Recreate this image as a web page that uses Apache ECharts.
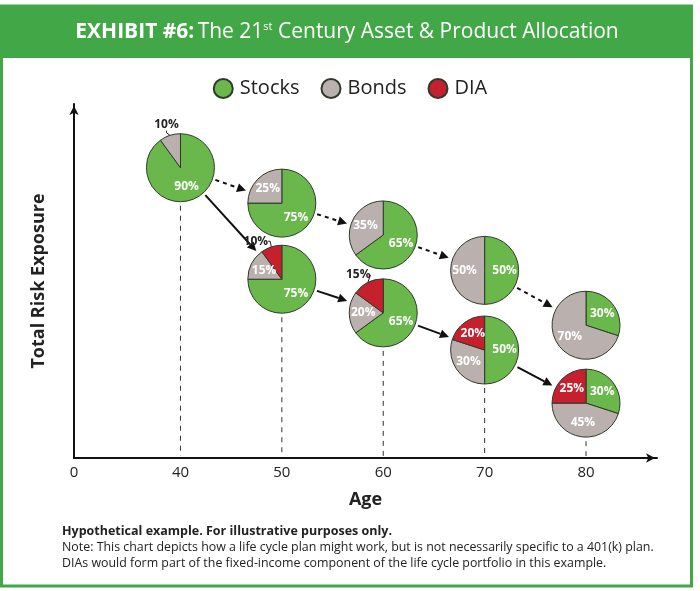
<!DOCTYPE html>
<html><head><meta charset="utf-8">
<script src="https://cdn.jsdelivr.net/npm/echarts@6/dist/echarts.min.js"></script>
<style>html,body{margin:0;padding:0;background:#fff}#c{width:700px;height:591px}</style>
</head><body><div id="c"></div>
<script>
// ---- data ----
const categories = ['Stocks', 'Bonds', 'DIA'];
const ages = [40, 50, 60, 70, 80];
const tickLabels = ['0', '40', '50', '60', '70', '80'];
// traditional stock/bond path (upper row of pies)
const tradStocks = [90, 75, 65, 50, 30];
const tradBonds  = [10, 25, 35, 50, 70];
const tradRisk   = [82, 72, 63, 53, 37.5];
// path with DIAs (lower row of pies)
const diaAges   = [50, 60, 70, 80];
const diaStocks = [75, 65, 50, 30];
const diaBonds  = [15, 20, 30, 45];
const diaDIA    = [10, 15, 20, 25];
const diaRisk   = [50.5, 41, 30.5, 15.5];

// ---- styles ----
const COLORS = { Stocks: '#6ab84b', Bonds: '#bab1ae', DIA: '#c6202f' };
const GREEN = '#42a847';
const FONT = '"Open Sans", "Noto Sans", sans-serif';
const R = 34;
const AXIS_MIN = 29.5;
// pixel offsets (from pie centre) of the few labels drawn outside their slice
const OUTSIDE_LABEL_OFFSET = { 't0-Bonds': [-14, -43], 'd0-DIA': [-26, -38], 'd1-DIA': [-25, -38] };

const chart = echarts.init(document.getElementById('c'), null, { renderer: 'canvas' });

const axisLabelValues = [AXIS_MIN].concat(ages);

chart.setOption({
  animation: false,
  textStyle: { fontFamily: FONT },
  grid: { left: 74, right: 43, top: 104, bottom: 133, containLabel: false },
  xAxis: {
    type: 'value', min: AXIS_MIN, max: 87,
    axisLine: { show: true, lineStyle: { color: '#111', width: 2 }, symbol: ['none', 'arrow'], symbolSize: [7, 9], symbolOffset: [0, -2] },
    axisTick: { show: false },
    splitLine: { show: false },
    axisLabel: {
      customValues: axisLabelValues,
      formatter: v => tickLabels[axisLabelValues.indexOf(v)],
      color: '#222', fontSize: 15, margin: 7, fontFamily: FONT
    },
    name: 'Age', nameLocation: 'middle', nameGap: 33,
    nameTextStyle: { fontSize: 18, fontWeight: 'bold', color: '#222', fontFamily: FONT }
  },
  yAxis: {
    type: 'value', min: 0, max: 100,
    axisLine: { show: true, lineStyle: { color: '#111', width: 2 }, symbol: ['none', 'arrow'], symbolSize: [7, 9], symbolOffset: [0, -2] },
    axisTick: { show: false },
    axisLabel: { show: false },
    splitLine: { show: false },
    name: 'Total Risk Exposure', nameLocation: 'middle', nameGap: 26, nameRotate: 90,
    nameTextStyle: { fontSize: 18, fontWeight: 'bold', color: '#222', fontFamily: FONT }
  },
  series: []
});

const toPx = (x, y) => chart.convertToPixel({ xAxisIndex: 0, yAxisIndex: 0 }, [x, y]);

function pieSeries(key, age, risk, parts) {
  const c = toPx(age, risk);
  const data = parts.filter(p => p.value > 0).map(p => {
    const item = { name: p.name, value: p.value, itemStyle: { color: COLORS[p.name] } };
    if (OUTSIDE_LABEL_OFFSET[key + '-' + p.name]) {
      item.label = { position: 'outside', color: '#222', fontSize: 12, fontWeight: 'bold' };
      item.labelLine = { show: true, length: 6, length2: 2, lineStyle: { color: '#222', width: 1 } };
    }
    return item;
  });
  return {
    type: 'pie', name: key, radius: R, center: c,
    startAngle: 90, clockwise: true,
    z: 5,
    itemStyle: { borderColor: '#2e3a2a', borderWidth: 1 },
    label: { show: true, position: 'inside', formatter: '{c}%', color: '#fff', fontWeight: 'bold', fontSize: 12, fontFamily: FONT },
    labelLine: { show: false },
    emphasis: { disabled: true },
    labelLayout: params => {
      const d = data[params.dataIndex];
      const off = d && OUTSIDE_LABEL_OFFSET[key + '-' + d.name];
      if (!off) return {};
      return { x: c[0] + off[0], y: c[1] + off[1], align: 'center', verticalAlign: 'middle' };
    },
    data: data
  };
}

const pies = [];
ages.forEach((a, i) => {
  pies.push(pieSeries('t' + i, a, tradRisk[i], [
    { name: 'Stocks', value: tradStocks[i] }, { name: 'Bonds', value: tradBonds[i] }
  ]));
});
diaAges.forEach((a, i) => {
  pies.push(pieSeries('d' + i, a, diaRisk[i], [
    { name: 'Stocks', value: diaStocks[i] }, { name: 'Bonds', value: diaBonds[i] }, { name: 'DIA', value: diaDIA[i] }
  ]));
});

// arrows: [x1, y1, x2, y2, dashed]
const arrows = [];
for (let i = 0; i < ages.length - 1; i++) arrows.push([ages[i], tradRisk[i], ages[i + 1], tradRisk[i + 1], 1]);
arrows.push([ages[0], tradRisk[0], diaAges[0], diaRisk[0], 0]);
for (let i = 0; i < diaAges.length - 1; i++) arrows.push([diaAges[i], diaRisk[i], diaAges[i + 1], diaRisk[i + 1], 0]);

// vertical guide lines from lowest pie at each age
const guides = ages.map((a, i) => {
  const j = diaAges.indexOf(a);
  return [a, j >= 0 ? diaRisk[j] : tradRisk[i]];
});

const arrowSeries = {
  type: 'custom', z: 3, silent: true,
  encode: { x: [0, 2], y: [1, 3] },
  data: arrows,
  renderItem: (params, api) => {
    const p1 = api.coord([api.value(0), api.value(1)]);
    const p2 = api.coord([api.value(2), api.value(3)]);
    const dashed = api.value(4) === 1;
    const dx = p2[0] - p1[0], dy = p2[1] - p1[1];
    const len = Math.sqrt(dx * dx + dy * dy);
    const ux = dx / len, uy = dy / len;
    const gap = R + 3;
    const s = [p1[0] + ux * gap, p1[1] + uy * gap];
    const e = [p2[0] - ux * (gap + 1), p2[1] - uy * (gap + 1)];
    const hl = 9, hw = 4.5;
    const b = [e[0] - ux * hl, e[1] - uy * hl];
    return {
      type: 'group',
      children: [
        { type: 'line', shape: { x1: s[0], y1: s[1], x2: b[0], y2: b[1] },
          style: { stroke: '#111', lineWidth: 2, lineDash: dashed ? [4, 4] : null } },
        { type: 'polygon', shape: { points: [e, [b[0] - uy * hw, b[1] + ux * hw], [b[0] + uy * hw, b[1] - ux * hw]] },
          style: { fill: '#111' } }
      ]
    };
  }
};

const guideSeries = {
  type: 'custom', z: 2, silent: true,
  encode: { x: 0, y: 1 },
  data: guides,
  renderItem: (params, api) => {
    const p = api.coord([api.value(0), api.value(1)]);
    const b = api.coord([api.value(0), 0]);
    return { type: 'line', shape: { x1: p[0], y1: p[1] + R + 4, x2: b[0], y2: b[1] - 2 },
      style: { stroke: '#333', lineWidth: 1, lineDash: [5, 5] } };
  }
};

chart.setOption({
  legend: {
    data: categories, top: 73, left: 'center', icon: 'circle', itemWidth: 19, itemHeight: 19, itemGap: 21,
    textStyle: { fontSize: 20, color: '#222', fontFamily: FONT, padding: [0, 0, 0, 2] }, selectedMode: false
  },
  graphic: [
    { type: 'rect', shape: { x: 1.5, y: 6, width: 690, height: 580 }, style: { fill: null, stroke: GREEN, lineWidth: 3 }, z: 0, silent: true },
    { type: 'rect', shape: { x: 0, y: 6, width: 693, height: 52 }, style: { fill: GREEN }, z: 1, silent: true },
    { type: 'text', x: 347, y: 32, z: 2, silent: true,
      style: {
        text: '{b|EXHIBIT #6:} {n|The 21}{s|st}{n| Century Asset & Product Allocation}',
        align: 'center', verticalAlign: 'middle',
        rich: {
          b: { fontSize: 21, fontWeight: 'bold', fill: '#fff', fontFamily: FONT },
          n: { fontSize: 21, fill: '#fff', fontFamily: FONT },
          s: { fontSize: 11, fill: '#fff', fontFamily: FONT, verticalAlign: 'top', padding: [0, 0, 10, 0] }
        }
      }
    },
    { type: 'text', left: 62, top: 525, silent: true,
      style: {
        text: '{h|Hypothetical example. For illustrative purposes only.}\n{t|Note: This chart depicts how a life cycle plan might work, but is not necessarily specific to a 401(k) plan.}\n{t|DIAs would form part of the fixed-income component of the life cycle portfolio in this example.}',
        rich: {
          h: { fontSize: 12.5, fontWeight: 'bold', fill: '#222', fontFamily: FONT, lineHeight: 16 },
          t: { fontSize: 12.4, fill: '#222', fontFamily: FONT, lineHeight: 16 }
        }
      }
    }
  ],
  series: [guideSeries, arrowSeries].concat(pies)
});
</script>
</body></html>
